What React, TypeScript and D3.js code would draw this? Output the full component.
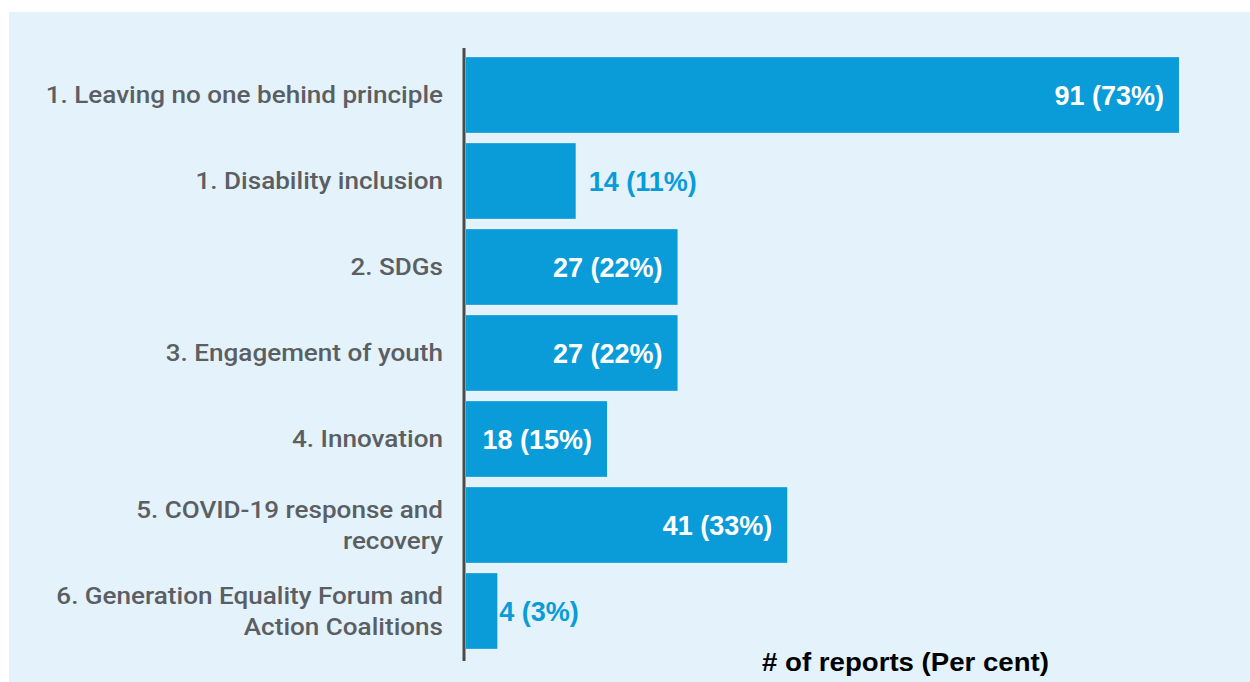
import React from "react";
import * as d3 from "d3";

const categories: string[][] = [
  ["1. Leaving no one behind principle"],
  ["1. Disability inclusion"],
  ["2. SDGs"],
  ["3. Engagement of youth"],
  ["4. Innovation"],
  ["5. COVID-19 response and", "recovery"],
  ["6. Generation Equality Forum and", "Action Coalitions"],
];
const counts: number[] = [91, 14, 27, 27, 18, 41, 4];
const percents: number[] = [73, 11, 22, 22, 15, 33, 3];
const axisTitle = "# of reports (Per cent)";

const W = 1250;
const H = 682;

export default function App() {
  const x = d3.scaleLinear().domain([0, 91]).range([466, 1179]);
  const y = d3
    .scaleBand<number>()
    .domain(d3.range(categories.length))
    .range([52, 654])
    .paddingInner(0.12)
    .paddingOuter(0.06);
  const bw = y.bandwidth();
  const blue = "#0a9bd9";
  const labelX = 443;
  const stretch = 1.087;
  return (
    <svg
      width={W}
      height={H}
      style={{ position: "absolute", left: 0, top: 0, background: "#ffffff" }}
    >
      <rect x={9} y={12} width={W - 9} height={H - 12} fill="#e3f2fb" />
      {counts.map((v, i) => {
        const y0 = y(i)!;
        const cy = y0 + bw / 2;
        const x1 = x(v);
        const inside = v >= 18;
        const lines = categories[i];
        const label = `${v} (${percents[i]}%)`;
        return (
          <g key={i}>
            <rect x={x(0)} y={y0} width={x1 - x(0)} height={bw} fill={blue} />
            <g transform={`translate(${labelX},0) scale(${stretch},1)`}>
              <text
                textAnchor="end"
                fontFamily="Roboto, sans-serif"
                fontWeight={500}
                fontSize={24}
                fill="#5b5e62"
              >
                {lines.map((l, j) => (
                  <tspan
                    key={j}
                    x={0}
                    y={cy + (j - (lines.length - 1) / 2) * 31}
                    dy="0.35em"
                  >
                    {l}
                  </tspan>
                ))}
              </text>
            </g>
            <text
              x={inside ? x1 - 15 : x1 + (v < 10 ? 2 : 13)}
              y={cy}
              dy="0.36em"
              textAnchor={inside ? "end" : "start"}
              fontFamily="'Liberation Sans', Arial, sans-serif"
              fontWeight={700}
              fontSize={27}
              fill={inside ? "#ffffff" : blue}
            >
              {label}
            </text>
          </g>
        );
      })}
      <line x1={464} x2={464} y1={48} y2={661} stroke="#4a4a4a" strokeWidth={3} />
      <text
        x={762}
        y={671}
        fontFamily="'Liberation Sans', Arial, sans-serif"
        fontWeight={700}
        fontSize={25}
        textLength={287}
        lengthAdjust="spacingAndGlyphs"
        fill="#000000"
      >
        {axisTitle}
      </text>
    </svg>
  );
}
